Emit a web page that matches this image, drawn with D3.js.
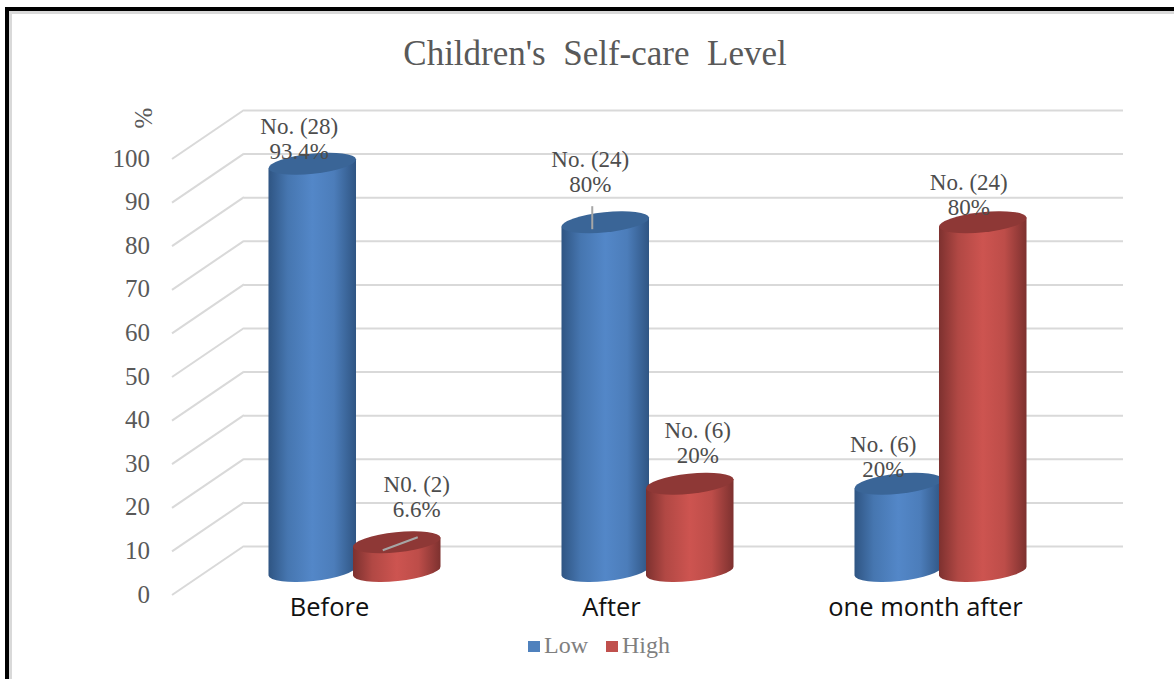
<!DOCTYPE html>
<html>
<head>
<meta charset="utf-8">
<script src="https://cdn.jsdelivr.net/npm/d3@7"></script>
<style>
  html, body { margin: 0; padding: 0; background: #fff; }
  svg { display: block; }
  text { font-family: "Liberation Serif", serif; }
</style>
</head>
<body>
<svg id="chart" width="1174" height="679"></svg>
<script>
// Chart content
const chartTitle = "Children's\u00A0\u00A0Self-care\u00A0\u00A0Level";
const categories = ["Before", "After", "one month after"];
const seriesNames = ["Low", "High"];
const lowValues = [93.4, 80, 20];
const highValues = [6.6, 20, 80];
const lowCounts = ["No. (28)", "No. (24)", "No. (6)"];
const highCounts = ["N0. (2)", "No. (6)", "No. (24)"];
const lowPercents = ["93.4%", "80%", "20%"];
const highPercents = ["6.6%", "20%", "80%"];
const yTicks = [0, 10, 20, 30, 40, 50, 60, 70, 80, 90, 100];

// Layout of the pseudo-3D plot box
const W = 1174, H = 679;
const wallLeft = 244, wallRight = 1123;
const floorDx = 72, floorDy = 49;      // front edge of the floor relative to the back wall
const barBaseOffset = 25;              // bars stand on the floor, in front of the wall
const rx = 44, ry = 10, tiltDeg = -6;

const svg = d3.select("#chart");
const defs = svg.append("defs");

const yWall = d3.scaleLinear().domain([0, 100]).range([546, 110]);
const yBar = v => yWall(v) + barBaseOffset;
const x0 = d3.scaleBand().domain(categories).range([208, 1087]);
const x1 = d3.scaleBand().domain(seriesNames).range([62, 231]);

const palette = {
  Low:  { edge: "#2f5583", mid: "#5387c8", top: "#3a6597", key: "#4f81bd" },
  High: { edge: "#7d312f", mid: "#cd5450", top: "#8e3836", key: "#c0504d" }
};

// Horizontal shading that gives the columns their round look
seriesNames.forEach(name => {
  const c = palette[name];
  const g = defs.append("linearGradient").attr("id", "shade" + name)
    .attr("x1", 0).attr("x2", 1).attr("y1", 0).attr("y2", 0);
  [[0, c.edge], [0.22, d3.interpolateRgb(c.edge, c.mid)(0.65)], [0.5, c.mid],
   [0.75, d3.interpolateRgb(c.edge, c.mid)(0.8)], [1, c.edge]]
    .forEach(([o, col]) => g.append("stop").attr("offset", o).attr("stop-color", col));
});

// Page frame
svg.append("rect").attr("x", 5).attr("y", 7).attr("width", W).attr("height", H)
  .attr("fill", "#000");
svg.append("rect").attr("x", 9).attr("y", 11).attr("width", W).attr("height", H)
  .attr("fill", "#d9d9d9");
svg.append("rect").attr("x", 12).attr("y", 14).attr("width", W).attr("height", H)
  .attr("fill", "#fff");

// Title
svg.append("text").attr("x", 595).attr("y", 65).attr("text-anchor", "middle")
  .attr("font-size", 35).attr("fill", "#595959").text(chartTitle);

// Back wall gridlines and value labels
const axis = d3.axisLeft(yWall).tickValues(yTicks)
  .tickSize(-(wallRight - wallLeft)).tickPadding(0);
const axisG = svg.append("g").attr("transform", `translate(${wallLeft},0)`).call(axis);
axisG.select(".domain").remove();
axisG.selectAll("line").attr("stroke", "#d9d9d9").attr("stroke-width", 2);
axisG.selectAll("text")
  .attr("x", -94).attr("dy", null).attr("y", floorDy + 7)
  .attr("text-anchor", "end")
  .style("font-family", '"Liberation Serif", serif')
  .attr("font-size", 25).attr("fill", "#595959");

// Side wall diagonals joining each gridline to the front edge
svg.append("g").selectAll("line").data(yTicks).join("line")
  .attr("x1", wallLeft).attr("y1", d => yWall(d))
  .attr("x2", wallLeft - floorDx).attr("y2", d => yWall(d) + floorDy)
  .attr("stroke", "#d9d9d9").attr("stroke-width", 2);

// Axis unit
svg.append("text").attr("transform", "translate(152,118) rotate(-90)")
  .attr("text-anchor", "middle").attr("font-size", 25).attr("fill", "#595959").text("%");

// Columns
const tilt = tiltDeg * Math.PI / 180;
const ex = rx * Math.cos(tilt), ey = rx * Math.sin(tilt);
function cylinderBody(cx, topY, baseY) {
  return `M${cx - ex},${topY - ey}L${cx - ex},${baseY - ey}` +
         `A${rx},${ry} ${tiltDeg} 0 0 ${cx + ex},${baseY + ey}` +
         `L${cx + ex},${topY + ey}Z`;
}

const rows = categories.flatMap((cat, i) => [
  { cat, name: "Low", value: lowValues[i], count: lowCounts[i], pct: lowPercents[i] },
  { cat, name: "High", value: highValues[i], count: highCounts[i], pct: highPercents[i] }
]);
const centre = d => x0(d.cat) + x1(d.name) + x1.bandwidth() / 2;

const bars = svg.append("g").selectAll("g").data(rows).join("g");
bars.append("path")
  .attr("d", d => cylinderBody(centre(d), yBar(d.value), yBar(0)))
  .attr("fill", d => `url(#shade${d.name})`);
bars.append("ellipse")
  .attr("rx", rx).attr("ry", ry)
  .attr("transform", d => `translate(${centre(d)},${yBar(d.value)}) rotate(${tiltDeg})`)
  .attr("fill", d => palette[d.name].top);

// Leader lines from the two labels that were dragged away from their columns
const leaders = [
  { cat: "After", name: "Low", value: 80, dx1: -13, dy1: -16, dx2: -13, dy2: 7 },
  { cat: "Before", name: "High", value: 6.6, dx1: 21, dy1: -5, dx2: -14, dy2: 8 }
];
svg.append("g").selectAll("line").data(leaders).join("line")
  .attr("x1", d => centre(d) + d.dx1).attr("y1", d => yBar(d.value) + d.dy1)
  .attr("x2", d => centre(d) + d.dx2).attr("y2", d => yBar(d.value) + d.dy2)
  .attr("stroke", "#a6a6a6").attr("stroke-width", 2);

// Value labels: hand-placed offsets from the top of each column
const labelOffset = {
  "Before|Low": [-13, -30], "Before|High": [20, -50],
  "After|Low": [-15, -55], "After|High": [8, -46],
  "one month after|Low": [-15, -32], "one month after|High": [-14, -32]
};
const labels = svg.append("g").selectAll("g").data(rows).join("g")
  .attr("transform", d => {
    const o = labelOffset[d.cat + "|" + d.name];
    return `translate(${centre(d) + o[0]},${yBar(d.value) + o[1]})`;
  })
  .attr("text-anchor", "middle").attr("font-size", 23).attr("fill", "#4d4d4d");
labels.append("text").attr("y", 0).text(d => d.count);
labels.append("text").attr("y", 25).text(d => d.pct);

// Category labels sit a little left of their groups
const categoryShift = { "Before": -25, "After": -36, "one month after": -15 };
svg.append("g").selectAll("text").data(categories).join("text")
  .attr("x", d => x0(d) + x0.bandwidth() / 2 + categoryShift[d])
  .attr("y", 616).attr("text-anchor", "middle")
  .style("font-family", '"Open Sans", sans-serif')
  .attr("font-size", 25.5).attr("fill", "#111").text(d => d);

// Legend
const legendX = d3.scalePoint().domain(seriesNames).range([528, 606]);
const legend = svg.append("g").selectAll("g").data(seriesNames).join("g")
  .attr("transform", d => `translate(${legendX(d)},641)`);
legend.append("rect").attr("width", 12).attr("height", 11)
  .attr("fill", d => palette[d].key);
legend.append("text").attr("x", 16).attr("y", 12).attr("font-size", 24)
  .attr("fill", "#7f7f7f").text(d => d);
</script>
</body>
</html>
